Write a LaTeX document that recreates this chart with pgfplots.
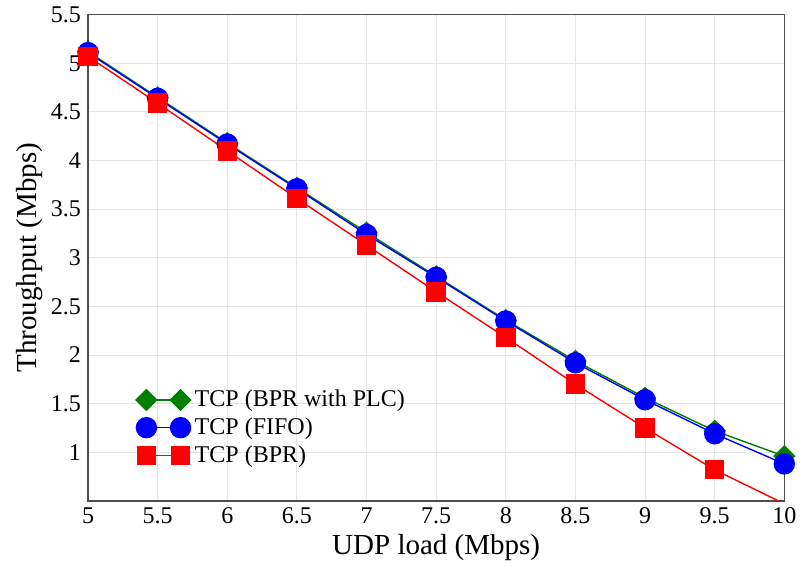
\documentclass[border=0pt]{standalone}
\usepackage{pgfplots}
\pgfplotsset{compat=1.18}
\usepackage{fontspec}
\setmainfont{Liberation Serif}
\begin{document}
\begin{tikzpicture}
\begin{axis}[
    scale only axis,
    width=348pt, height=243pt,
    xmin=5, xmax=10, ymin=0.5, ymax=5.5,
    xtick={5,5.5,...,10},
    ytick={1,1.5,...,5.5},
    /pgf/number format/assume math mode=true,
    ticklabel style={font=\fontsize{12}{14}\selectfont},
    xlabel={UDP load (Mbps)},
    ylabel={Throughput (Mbps)},
    label style={font=\fontsize{14.5}{17}\selectfont},
    xlabel style={yshift=2pt},
    ylabel style={yshift=-3pt},
    grid=major,
    grid style={gray!20, line width=0.5pt},
    tick style={draw=none},
    axis line style={black!70, line width=0.8pt},
    legend style={draw=none, fill=none, at={(0.06,0.245)}, anchor=north west,
        font=\fontsize{12}{14}\selectfont, row sep=0pt},
    legend cell align=left,
    legend image code/.code={
        \draw[mark repeat=2, mark phase=1, #1] plot coordinates {(0cm,0cm) (0.3cm,0cm) (0.6cm,0cm)};
    },
]
\coordinate (o) at (rel axis cs:0,0);
\addplot[color=green!50!black, line width=0.7pt, mark=square*, mark size=3.6pt, mark options={fill=green!50!black, rotate=45}] coordinates {
(5,5.12) (5.5,4.65) (6,4.18) (6.5,3.72) (7,3.26) (7.5,2.81) (8,2.36) (8.5,1.94) (9,1.56) (9.5,1.22) (10,0.96)};
\addplot[color=blue, line width=0.7pt, mark=*, mark size=5pt] coordinates {
(5,5.11) (5.5,4.64) (6,4.17) (6.5,3.71) (7,3.24) (7.5,2.80) (8,2.35) (8.5,1.92) (9,1.54) (9.5,1.19) (10,0.88)};
\addplot[color=red, line width=0.7pt, mark=square*, mark size=4.5pt] coordinates {
(5,5.07) (5.5,4.59) (6,4.10) (6.5,3.61) (7,3.13) (7.5,2.65) (8,2.18) (8.5,1.70) (9,1.25) (9.5,0.82) (10,0.47)};
\legend{TCP (BPR with PLC), TCP (FIFO), TCP (BPR)}
\end{axis}
\path (o) ++(-44pt,0);
\end{tikzpicture}
\end{document}
